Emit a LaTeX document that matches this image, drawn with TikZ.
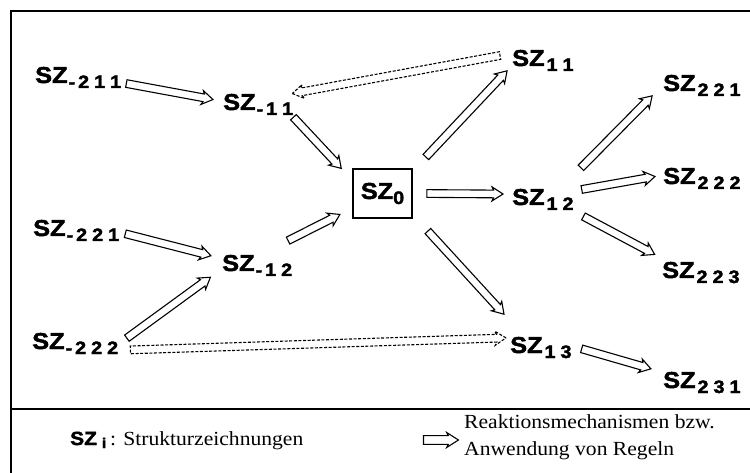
\documentclass[tikz,border=0pt]{standalone}
\usepackage{fontspec}
\usetikzlibrary{calc,shapes.arrows}
\newfontfamily\szf[FakeStretch=1.1, BoldFeatures={FakeBold=2}]{Liberation Sans}
\newfontfamily\lgf[FakeStretch=1.08]{Liberation Serif}
\newcommand\szsub[1]{\raisebox{-5pt}{\fontsize{18}{18}\selectfont #1}}
\newcommand\gp{\hspace{5pt}}
\newcommand\harr[3][]{\path let \p1=#2, \p2=#3, \n1={atan2(\y2-\y1,\x2-\x1)}, \n2={veclen(\x2-\x1,\y2-\y1)} in node[hol,#1,minimum height=\n2,rotate=\n1] at ($(\p1)!0.5!(\p2)$) {};}
\tikzset{
  lbl/.style={anchor=base west, inner sep=0pt, font=\szf\bfseries\fontsize{23}{23}\selectfont},
  hol/.style={single arrow, draw, fill=white, line width=1.1pt, inner sep=1.9pt,
    minimum width=14pt, single arrow head extend=2pt, single arrow tip angle=65,
    single arrow head indent=1.5pt, line join=miter},
  dhol/.style={dash pattern=on 3pt off 1.6pt},
  legarrow/.style={inner sep=2.3pt, minimum width=15pt},
  frame/.style={line width=1.8pt},
  legtext/.style={anchor=base west, inner sep=0pt, font=\lgf\fontsize{20}{20}\selectfont}
}
\begin{document}
\begin{tikzpicture}[x=1pt,y=-1pt]
\useasboundingbox (0,0) rectangle (750,473);
\fill[white] (0,0) rectangle (750,473);
\draw[frame] (750,11) -- (11,11) -- (11,473);
\draw[frame] (11,409) -- (750,409);

% nodes
\node[lbl] (m211) at (35,83) {SZ\szsub{\hspace{1pt}-\hspace{3pt}2\gp 1\gp 1}};
\node[lbl] (m11) at (223,110) {SZ\szsub{\hspace{1pt}-\hspace{3pt}1\gp 1}};
\node[lbl] (m221) at (33,236) {SZ\szsub{\hspace{1pt}-\hspace{3pt}2\gp 2\gp 1}};
\node[lbl] (m12) at (222,271) {SZ\szsub{\hspace{1pt}-\hspace{3pt}1\gp 2}};
\node[lbl] (m222) at (32,349) {SZ\szsub{\hspace{1pt}-\hspace{3pt}2\gp 2\gp 2}};
\node[draw, line width=1.6pt, minimum width=59pt, minimum height=49pt, inner sep=0pt,
  font=\szf\bfseries\fontsize{23}{23}\selectfont] (zero) at (382.5,193.5) {SZ\szsub{0}};
\node[lbl] (p11) at (512,66) {SZ\szsub{\hspace{2pt}1\gp 1}};
\node[lbl] (p12) at (512,205) {SZ\szsub{\hspace{2pt}1\gp 2}};
\node[lbl] (p13) at (510,353) {SZ\szsub{\hspace{2pt}1\gp 3}};
\node[lbl] (p221) at (663,91) {SZ\szsub{\hspace{2pt}2\gp 2\gp 1}};
\node[lbl] (p222) at (663,184) {SZ\szsub{\hspace{2pt}2\gp 2\gp 2}};
\node[lbl] (p223) at (662,278) {SZ\szsub{\hspace{2pt}2\gp 2\gp 3}};
\node[lbl] (p231) at (663,388) {SZ\szsub{\hspace{2pt}2\gp 3\gp 1}};

% arrows
\harr{($(m211.base east)+(2,0)$)}{($(m11.base west)+(-13,-11)$)}
\harr{($(m11.base east)+(-2,5)$)}{($(zero.north west)+(-13,-2)$)}
\harr{($(m221.base east)+(3,-3)$)}{($(m12.base west)+(-14,-16)$)}
\harr{($(m222.base east)+(6,-9)$)}{($(m12.base west)+(-14,8)$)}
\harr{($(m12.base east)+(-7,-29)$)}{($(zero.south west)+(-15,-3)$)}
\harr{($(zero.north east)+(11,-9)$)}{($(p11.base west)+(-7,7)$)}
\harr{($(zero.east)+(11,0)$)}{($(p12.base west)+(-12,-11)$)}
\harr{($(zero.south east)+(13,10)$)}{($(p13.base west)+(-8,-41)$)}
\harr{($(p12.base east)+(5,-35)$)}{($(p221.base west)+(-13,7)$)}
\harr{($(p12.base east)+(5,-15)$)}{($(p222.base west)+(-11,-7)$)}
\harr{($(p12.base east)+(7,10)$)}{($(p223.base west)+(-10,-25)$)}
\harr{($(p13.base east)+(7,-5)$)}{($(p231.base west)+(-15,-20)$)}
\harr[dhol]{($(p11.base west)+(-9,-11)$)}{($(m11.base east)+(2,-17)$)}
\harr[dhol]{($(m222.base east)+(9,1)$)}{($(p13.base west)+(-7,-15)$)}

% legend
\node[anchor=base west, inner sep=0pt] (legL) at (70,445)
  {{\szf\bfseries\fontsize{19}{19}\selectfont SZ\hspace{5pt}\raisebox{-3pt}{\fontsize{14}{14}\selectfont i}}\hspace{4pt}{\lgf\fontsize{20}{20}\selectfont : Strukturzeichnungen}};
\node[legtext] (legR1) at (464,428) {Reaktionsmechanismen bzw.};
\node[legtext] (legR2) at (464,455) {Anwendung von Regeln};
\harr[legarrow]{($(legR1.base west)+(-44,12)$)}{($(legR1.base west)+(-9,12)$)}
\end{tikzpicture}
\end{document}
